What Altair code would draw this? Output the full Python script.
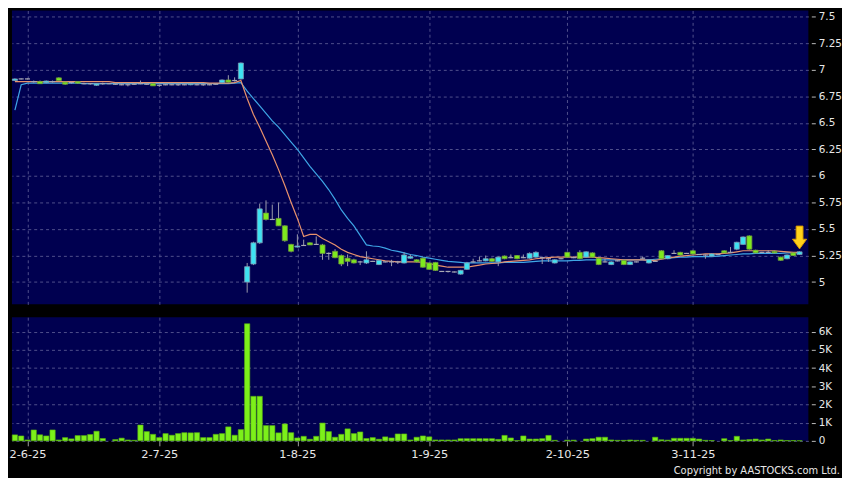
import altair as alt
import pandas as pd

# ---------------- data ----------------
tick_idx = [2, 23, 45, 66, 88, 108]
tick_labels = ["2-6-25", "2-7-25", "1-8-25", "1-9-25", "2-10-25", "3-11-25"]
price_ticks = [5, 5.25, 5.5, 5.75, 6, 6.25, 6.5, 6.75, 7, 7.25, 7.5]
vol_ticks = [0, 1000, 2000, 3000, 4000, 5000, 6000]
copyright_text = "Copyright by AASTOCKS.com Ltd."

open_ = [
    6.900, 6.915, 6.915, 6.890, 6.890, 6.880, 6.890, 6.925, 6.885, 6.880,
    6.890, 6.870, 6.870, 6.855, 6.870, 6.870, 6.865, 6.860, 6.860, 6.865,
    6.870, 6.865, 6.870, 6.855, 6.860, 6.860, 6.860, 6.860, 6.860, 6.860,
    6.860, 6.860, 6.865, 6.880, 6.905, 6.900, 6.915, 5.000, 5.170, 5.370,
    5.650, 5.590, 5.600, 5.530, 5.355, 5.330, 5.345, 5.370, 5.355, 5.350,
    5.270, 5.290, 5.250, 5.225, 5.210, 5.190, 5.180, 5.195, 5.165, 5.190,
    5.190, 5.190, 5.180, 5.225, 5.210, 5.225, 5.180, 5.185, 5.100, 5.100,
    5.095, 5.075, 5.120, 5.190, 5.200, 5.200, 5.220, 5.190, 5.245, 5.230,
    5.250, 5.230, 5.225, 5.235, 5.230, 5.220, 5.180, 5.220, 5.280, 5.230,
    5.280, 5.235, 5.275, 5.225, 5.190, 5.165, 5.200, 5.205, 5.165, 5.190,
    5.225, 5.180, 5.195, 5.295, 5.220, 5.270, 5.280, 5.270, 5.295, 5.260,
    5.255, 5.245, 5.260, 5.295, 5.280, 5.310, 5.355, 5.435, 5.300, 5.280,
    5.280, 5.290, 5.235, 5.220, 5.275, 5.260,
]
high = [
    6.920, 6.920, 6.920, 6.900, 6.900, 6.900, 6.900, 6.930, 6.890, 6.890,
    6.895, 6.880, 6.875, 6.875, 6.880, 6.875, 6.870, 6.870, 6.865, 6.870,
    6.900, 6.870, 6.875, 6.860, 6.865, 6.865, 6.870, 6.865, 6.875, 6.865,
    6.870, 6.865, 6.870, 6.910, 6.950, 6.930, 7.070, 5.180, 5.380, 5.740,
    5.770, 5.730, 5.750, 5.535, 5.360, 5.450, 5.400, 5.375, 5.430, 5.360,
    5.280, 5.310, 5.260, 5.260, 5.220, 5.200, 5.290, 5.200, 5.210, 5.195,
    5.210, 5.200, 5.280, 5.260, 5.215, 5.230, 5.185, 5.190, 5.105, 5.105,
    5.100, 5.115, 5.190, 5.220, 5.240, 5.250, 5.230, 5.240, 5.250, 5.260,
    5.255, 5.260, 5.280, 5.290, 5.240, 5.225, 5.215, 5.225, 5.285, 5.240,
    5.300, 5.290, 5.280, 5.230, 5.220, 5.195, 5.205, 5.210, 5.195, 5.195,
    5.240, 5.215, 5.200, 5.300, 5.255, 5.300, 5.285, 5.275, 5.300, 5.265,
    5.260, 5.270, 5.265, 5.300, 5.330, 5.380, 5.430, 5.440, 5.305, 5.285,
    5.300, 5.295, 5.240, 5.260, 5.280, 5.290,
]
low = [
    6.895, 6.910, 6.910, 6.880, 6.870, 6.875, 6.880, 6.900, 6.860, 6.870,
    6.870, 6.865, 6.860, 6.850, 6.860, 6.865, 6.860, 6.855, 6.845, 6.860,
    6.865, 6.860, 6.850, 6.840, 6.855, 6.855, 6.850, 6.855, 6.855, 6.855,
    6.850, 6.855, 6.860, 6.875, 6.880, 6.890, 6.910, 4.900, 5.160, 5.360,
    5.580, 5.585, 5.530, 5.380, 5.280, 5.325, 5.340, 5.350, 5.350, 5.210,
    5.210, 5.225, 5.150, 5.150, 5.175, 5.160, 5.170, 5.190, 5.160, 5.185,
    5.150, 5.170, 5.175, 5.220, 5.185, 5.135, 5.115, 5.105, 5.095, 5.090,
    5.090, 5.070, 5.115, 5.185, 5.195, 5.195, 5.190, 5.150, 5.215, 5.225,
    5.215, 5.225, 5.220, 5.230, 5.170, 5.190, 5.175, 5.215, 5.230, 5.225,
    5.215, 5.230, 5.230, 5.160, 5.185, 5.160, 5.195, 5.160, 5.160, 5.185,
    5.220, 5.175, 5.190, 5.215, 5.215, 5.265, 5.250, 5.265, 5.260, 5.255,
    5.220, 5.240, 5.255, 5.270, 5.275, 5.300, 5.350, 5.305, 5.270, 5.275,
    5.275, 5.270, 5.200, 5.215, 5.245, 5.255,
]
close = [
    6.915, 6.915, 6.915, 6.890, 6.870, 6.895, 6.890, 6.900, 6.865, 6.880,
    6.875, 6.870, 6.870, 6.870, 6.870, 6.870, 6.865, 6.860, 6.860, 6.865,
    6.870, 6.865, 6.850, 6.855, 6.860, 6.860, 6.860, 6.860, 6.870, 6.860,
    6.860, 6.860, 6.865, 6.905, 6.885, 6.900, 7.065, 5.145, 5.370, 5.690,
    5.590, 5.590, 5.530, 5.390, 5.290, 5.340, 5.345, 5.350, 5.355, 5.270,
    5.270, 5.230, 5.170, 5.195, 5.180, 5.190, 5.210, 5.195, 5.205, 5.190,
    5.190, 5.190, 5.255, 5.240, 5.190, 5.140, 5.120, 5.110, 5.100, 5.100,
    5.095, 5.110, 5.180, 5.190, 5.200, 5.220, 5.195, 5.235, 5.220, 5.230,
    5.220, 5.230, 5.270, 5.280, 5.230, 5.220, 5.210, 5.220, 5.235, 5.230,
    5.220, 5.285, 5.235, 5.165, 5.190, 5.190, 5.200, 5.165, 5.190, 5.190,
    5.225, 5.210, 5.195, 5.220, 5.250, 5.270, 5.255, 5.270, 5.265, 5.260,
    5.255, 5.265, 5.260, 5.275, 5.280, 5.375, 5.425, 5.310, 5.275, 5.280,
    5.280, 5.275, 5.205, 5.255, 5.250, 5.285,
]
volume = [
    330, 270, 50, 600, 330, 270, 600, 50, 180, 110,
    290, 290, 350, 530, 130, 0, 70, 150, 50, 30,
    870, 510, 360, 180, 400, 310, 400, 450, 440, 450,
    180, 180, 360, 400, 770, 310, 620, 6440, 2450, 2450,
    840, 840, 440, 930, 450, 160, 250, 90, 250, 980,
    510, 200, 360, 660, 400, 490, 130, 180, 90, 220,
    160, 380, 380, 50, 200, 270, 220, 50, 50, 50,
    50, 120, 120, 120, 120, 120, 120, 80, 300, 160,
    20, 270, 100, 100, 120, 300, 30, 0, 40, 40,
    0, 100, 120, 200, 200, 50, 30, 30, 50, 30,
    30, 0, 200, 60, 40, 140, 140, 140, 140, 100,
    30, 20, 0, 120, 20, 250, 50, 70, 100, 50,
    100, 20, 50, 20, 20, 10,
]
ma10 = [
    6.89, 6.89, 6.89, 6.89, 6.89, 6.89, 6.89, 6.89, 6.89, 6.89,
    6.89, 6.89, 6.89, 6.89, 6.89, 6.89, 6.88, 6.88, 6.88, 6.88,
    6.88, 6.88, 6.88, 6.88, 6.88, 6.88, 6.88, 6.88, 6.88, 6.88,
    6.88, 6.875, 6.875, 6.875, 6.875, 6.88, 6.90, 6.73, 6.58, 6.46,
    6.33, 6.20, 6.06, 5.91, 5.75, 5.60, 5.43, 5.45, 5.45, 5.41,
    5.38, 5.35, 5.31, 5.28, 5.26, 5.24, 5.23, 5.22, 5.21, 5.20,
    5.195, 5.19, 5.19, 5.19, 5.19, 5.185, 5.175, 5.16, 5.15, 5.14,
    5.14, 5.14, 5.14, 5.15, 5.16, 5.17, 5.175, 5.18, 5.19, 5.195,
    5.20, 5.205, 5.21, 5.22, 5.225, 5.23, 5.235, 5.235, 5.235, 5.235,
    5.235, 5.235, 5.235, 5.23, 5.225, 5.22, 5.215, 5.21, 5.21, 5.21,
    5.21, 5.205, 5.205, 5.215, 5.225, 5.235, 5.245, 5.25, 5.255, 5.26,
    5.265, 5.265, 5.265, 5.27, 5.275, 5.285, 5.295, 5.295, 5.295, 5.295,
    5.295, 5.295, 5.29, 5.285, 5.28, 5.28,
]
ma20 = [
    6.62, 6.86, 6.875, 6.875, 6.875, 6.875, 6.875, 6.875, 6.875, 6.875,
    6.875, 6.87, 6.87, 6.87, 6.87, 6.87, 6.87, 6.87, 6.87, 6.87,
    6.87, 6.87, 6.87, 6.87, 6.87, 6.87, 6.87, 6.87, 6.87, 6.87,
    6.87, 6.87, 6.87, 6.87, 6.87, 6.875, 6.88, 6.80, 6.73, 6.66,
    6.59, 6.52, 6.46, 6.39, 6.32, 6.25, 6.17, 6.09, 6.02, 5.95,
    5.87, 5.78, 5.68, 5.60, 5.53, 5.44, 5.35, 5.34, 5.335, 5.32,
    5.30, 5.29, 5.275, 5.26, 5.25, 5.235, 5.225, 5.215, 5.205, 5.195,
    5.19, 5.185, 5.18, 5.18, 5.18, 5.18, 5.18, 5.18, 5.185, 5.185,
    5.185, 5.185, 5.19, 5.195, 5.20, 5.20, 5.20, 5.20, 5.20, 5.205,
    5.205, 5.21, 5.21, 5.21, 5.21, 5.21, 5.21, 5.21, 5.21, 5.21,
    5.21, 5.21, 5.215, 5.22, 5.225, 5.23, 5.235, 5.235, 5.24, 5.24,
    5.24, 5.24, 5.245, 5.25, 5.255, 5.26, 5.265, 5.265, 5.27, 5.27,
    5.27, 5.27, 5.27, 5.275, 5.275, 5.275,
]

# ---------------- styles ----------------
FONT = "DejaVu Sans"
NAVY = "#000050"
GRID = "#50508C"
TEXT = "#E8E8E8"
CYAN = "#3EE2F2"
CYAN_EDGE = "#7C9CB4"
GREEN = "#7EEA1E"
GREEN_EDGE = "#6F9A3A"
WICK = "#9C9CAC"
DOJI = "#A8A8B4"
MA10_COLOR = "#E9926C"
MA20_COLOR = "#3EA6E6"
VOL = "#7CF01A"
VOL_EDGE = "#58B010"
ARROW_FILL = "#FFD21A"
ARROW_EDGE = "#D89A00"
ARROW_PATH = "M-0.3,-1L0.3,-1L0.3,0.15L0.62,0.15L0,1L-0.62,0.15L-0.3,0.15Z"

W = 805
H_PRICE = 297
H_VOL = 125

N = len(close)
df = pd.DataFrame({
    "i": list(range(N)), "open": open_, "high": high, "low": low,
    "close": close, "volume": volume, "ma10": ma10, "ma20": ma20,
})
df["dir"] = ["up" if c > o else ("down" if c < o else "flat") for o, c in zip(open_, close)]

x_scale = alt.Scale(domain=[-0.47, N + 0.4], nice=False, zero=False)
y_price = alt.Scale(domain=[4.79, 7.56], nice=False, zero=False)
y_vol = alt.Scale(domain=[0, 6800], nice=False, zero=False)

label_expr = " : ".join(
    f"datum.value == {k} ? '{v}'" for k, v in zip(tick_idx, tick_labels)
) + " : ''"

x_axis_price = alt.Axis(values=tick_idx, labels=False, ticks=False, domain=False,
                        grid=True, title=None)
x_axis_vol = alt.Axis(values=tick_idx, labelExpr=label_expr, ticks=True, tickSize=5,
                      tickColor="#A0A0A0", domain=False, grid=True, title=None,
                      labelFontSize=11.5, labelPadding=3, labelFlush=False,
                      labelOverlap=False)
y_axis_price = alt.Axis(orient="right", values=price_ticks, labelExpr="'' + datum.value",
                        title=None, domain=False, tickSize=4, offset=3, labelPadding=3,
                        grid=True)
y_axis_vol = alt.Axis(orient="right", values=vol_ticks,
                      labelExpr="datum.value == 0 ? '0' : (datum.value / 1000) + 'K'",
                      title=None, domain=False, tickSize=4, offset=3, labelPadding=3,
                      grid=True)

base = alt.Chart(df).transform_calculate(
    xl="datum.i - 0.4", xr="datum.i + 0.4",
    vl="datum.i - 0.42", vr="datum.i + 0.42",
)

X = lambda f, ax: alt.X(f, scale=x_scale, axis=ax)
YP = lambda f: alt.Y(f, scale=y_price, axis=y_axis_price)

ma20_line = base.mark_line(color=MA20_COLOR, strokeWidth=1.2).encode(
    x=X("i:Q", x_axis_price), y=YP("ma20:Q"))
ma10_line = base.mark_line(color=MA10_COLOR, strokeWidth=1.2).encode(
    x=X("i:Q", x_axis_price), y=YP("ma10:Q"))
wick = base.mark_rule(color=WICK, strokeWidth=1).encode(
    x=X("i:Q", x_axis_price), y=YP("low:Q"), y2="high:Q")
body = base.transform_filter("datum.open != datum.close").mark_rect(strokeWidth=0.8).encode(
    x=X("xl:Q", x_axis_price), x2="xr:Q", y=YP("open:Q"), y2="close:Q",
    fill=alt.Fill("dir:N", scale=alt.Scale(domain=["up", "down"], range=[CYAN, GREEN]), legend=None),
    stroke=alt.Stroke("dir:N", scale=alt.Scale(domain=["up", "down"], range=[CYAN_EDGE, GREEN_EDGE]), legend=None),
)
doji = base.transform_filter("datum.open == datum.close").mark_rule(color=DOJI, strokeWidth=1.2).encode(
    x=X("xl:Q", x_axis_price), x2="xr:Q", y=YP("close:Q"))
arrow = base.transform_filter(f"datum.i == {N - 1}").transform_calculate(
    ay="datum.high + 0.13").mark_point(
    shape=ARROW_PATH, filled=True, size=530, fill=ARROW_FILL, stroke=ARROW_EDGE,
    strokeWidth=1, opacity=1).encode(x=X("i:Q", x_axis_price), y=YP("ay:Q"))

price = alt.layer(ma20_line, ma10_line, wick, body, doji, arrow).properties(
    width=W, height=H_PRICE)

vol_bars = base.transform_filter("datum.volume > 0").mark_rect(
    fill=VOL, stroke=VOL_EDGE, strokeWidth=0.6).encode(
    x=X("vl:Q", x_axis_vol), x2="vr:Q",
    y=alt.Y("volume:Q", scale=y_vol, axis=y_axis_vol), y2=alt.datum(0))
copyright_mark = alt.Chart(pd.DataFrame({"t": [copyright_text]})).mark_text(
    align="right", baseline="alphabetic", color=TEXT, fontSize=10, font=FONT).encode(
    text="t:N", x=alt.value(837), y=alt.value(158))

vol = alt.layer(vol_bars, copyright_mark).properties(width=W, height=H_VOL)

chart = alt.vconcat(price, vol, spacing=13).properties(
    background="#000000", padding=0
).configure_view(fill=NAVY, strokeWidth=0, stroke="transparent").configure_axis(
    gridColor=GRID, gridDash=[3, 3], gridWidth=1, gridOpacity=1,
    labelFont=FONT, labelColor=TEXT, labelFontSize=10.5, tickColor="#BBBBBB",
)

chart.save("out.html", embed_options={"renderer": "svg", "actions": False})
